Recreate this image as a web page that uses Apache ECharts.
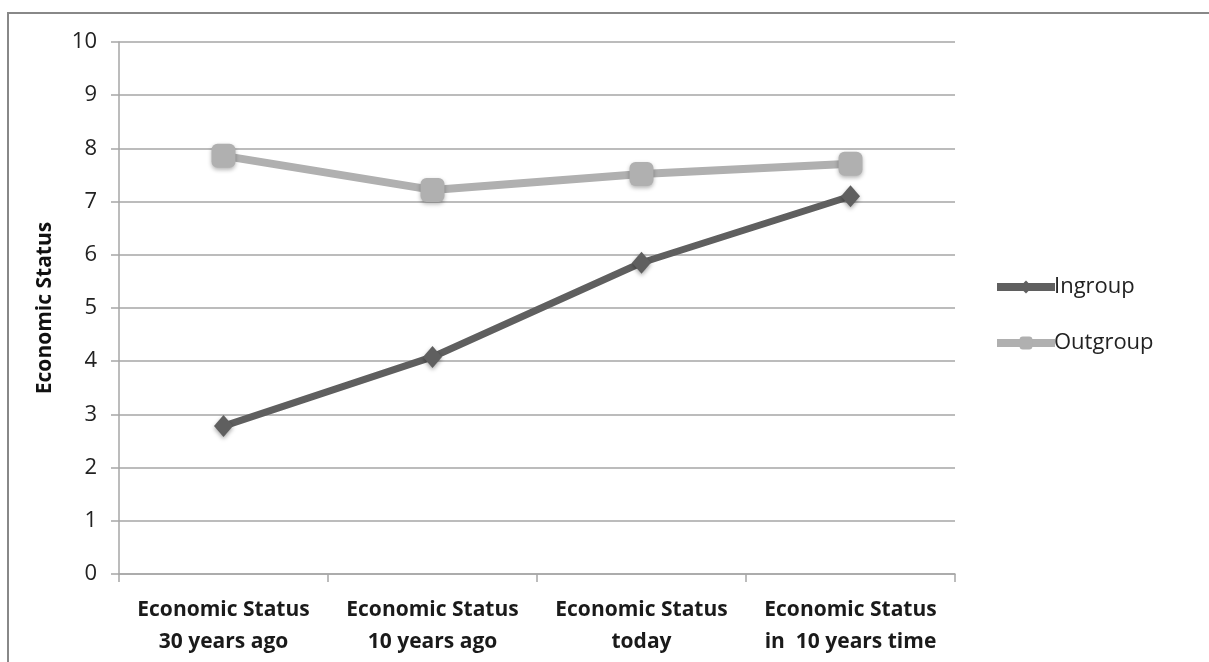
<!DOCTYPE html>
<html>
<head>
<meta charset="utf-8">
<script src="https://cdn.jsdelivr.net/npm/echarts@6/dist/echarts.min.js"></script>
<style>
  html, body { margin: 0; padding: 0; background: #fff; }
  #chart { width: 1209px; height: 662px; }
</style>
</head>
<body>
<div id="chart"></div>
<script>
const categories = [
  'Economic Status\n30 years ago',
  'Economic Status\n10 years ago',
  'Economic Status\ntoday',
  'Economic Status\nin  10 years time'
];
const ingroup = [2.78, 4.08, 5.85, 7.1];
const outgroup = [7.86, 7.22, 7.52, 7.71];
const yTicks = [0, 1, 2, 3, 4, 5, 6, 7, 8, 9, 10];

const chart = echarts.init(document.getElementById('chart'));
const font = '"Open Sans", Lato, sans-serif';

const option = {
  animation: false,
  backgroundColor: '#fff',
  graphic: [{
    type: 'rect',
    shape: { x: 8, y: 13, width: 1220, height: 700 },
    style: { fill: 'none', stroke: '#888', lineWidth: 2 },
    silent: true
  }],
  grid: { left: 119, right: 254, top: 42, bottom: 88 },
  legend: {
    orient: 'vertical',
    left: 993,
    top: 276,
    padding: 0,
    itemGap: 34,
    itemWidth: 58,
    itemHeight: 16,
    lineStyle: { width: 8 },
    textStyle: { fontFamily: font, fontSize: 22, color: '#222', padding: [0, 0, 0, -6] },
    data: ['Ingroup', 'Outgroup']
  },
  xAxis: {
    type: 'category',
    data: categories,
    boundaryGap: true,
    axisLine: { lineStyle: { color: '#a6a6a6', width: 1.5 } },
    axisTick: { show: true, length: 8, lineStyle: { color: '#a6a6a6', width: 1.5 } },
    axisLabel: {
      fontFamily: font, fontSize: 21, fontWeight: 'bold', color: '#1a1a1a',
      margin: 20, lineHeight: 32, interval: 0
    }
  },
  yAxis: {
    type: 'value',
    min: 0, max: 10, interval: 1,
    name: 'Economic Status',
    nameLocation: 'middle',
    nameGap: 63,
    nameTextStyle: { fontFamily: font, fontSize: 21, fontWeight: 'bold', color: '#111' },
    axisLine: { show: true, lineStyle: { color: '#a6a6a6', width: 1.5 } },
    axisTick: { show: true, length: 8, lineStyle: { color: '#a6a6a6', width: 1.5 } },
    splitLine: { lineStyle: { color: '#a6a6a6', width: 1.5 } },
    axisLabel: {
      fontFamily: font, fontSize: 22, color: '#222', margin: 22,
      formatter: v => (yTicks.includes(v) ? String(v) : '')
    }
  },
  series: [
    {
      name: 'Ingroup',
      type: 'line',
      data: ingroup,
      symbol: 'diamond',
      symbolSize: [19, 22],
      lineStyle: { color: '#5f5f5f', width: 7 },
      itemStyle: {
        color: '#5f5f5f',
        shadowBlur: 4, shadowColor: 'rgba(0,0,0,0.35)', shadowOffsetY: 2
      },
      z: 3
    },
    {
      name: 'Outgroup',
      type: 'line',
      data: outgroup,
      symbol: 'roundRect',
      symbolSize: 24,
      lineStyle: { color: '#b0b0b0', width: 8 },
      itemStyle: {
        color: '#b0b0b0',
        shadowBlur: 4, shadowColor: 'rgba(0,0,0,0.3)', shadowOffsetY: 2
      },
      z: 2
    }
  ]
};

chart.setOption(option);
</script>
</body>
</html>
